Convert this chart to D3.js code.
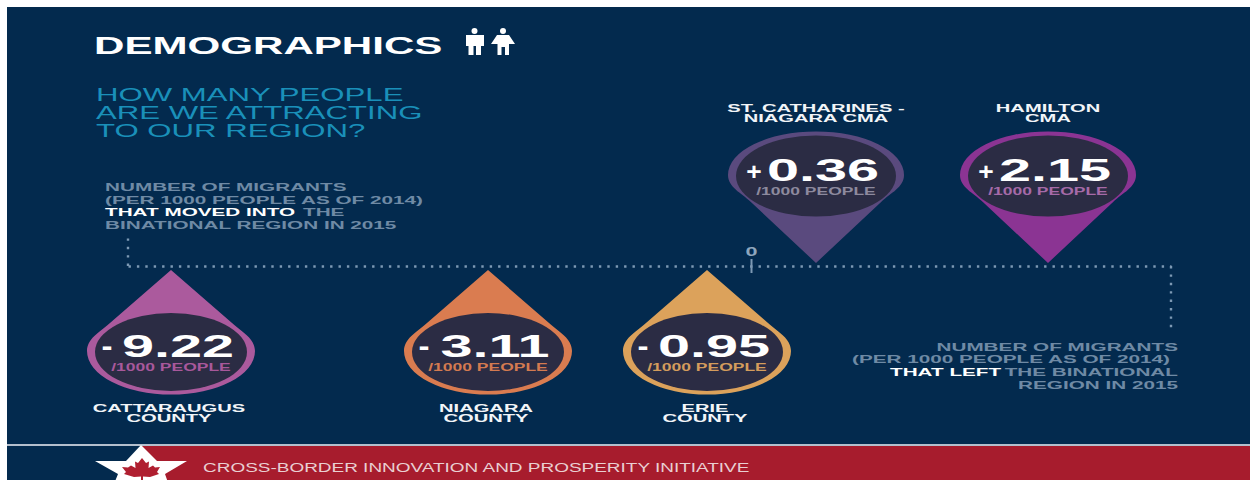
<!DOCTYPE html>
<html>
<head>
<meta charset="utf-8">
<title>Demographics</title>
<script src="https://cdn.jsdelivr.net/npm/d3@7/dist/d3.min.js"></script>
<style>
  html, body { margin: 0; padding: 0; background: #fff; }
  svg { display: block; }
  text { font-family: "Liberation Sans", Arial, sans-serif; }
</style>
</head>
<body>
<div id="chart"></div>
<script>
// Net migration per 1000 people, one pin per region
const regions = ["Cattaraugus", "Niagara", "Erie", "St. Catharines", "Hamilton"];
const regionLabels = [
  ["CATTARAUGUS", "COUNTY"],
  ["NIAGARA", "COUNTY"],
  ["ERIE", "COUNTY"],
  ["ST. CATHARINES -", "NIAGARA CMA"],
  ["HAMILTON", "CMA"]
];
const migration = [-9.22, -3.11, -0.95, 0.36, 2.15];
const pinColors = ["#ab5a9d", "#da7c50", "#dca25b", "#5a4a7e", "#8b3493"];
const unitColors = ["#a8589b", "#d47a50", "#d49c5c", "#8d8a9e", "#a66aa8"];
const zeroTick = [0];

const W = 1250, H = 480;
const svg = d3.select("#chart").append("svg").attr("width", W).attr("height", H);

const navy = "#032a4e", inner = "#2b2c44", muted = "#6f8aa5", dotColor = "#7d99b4";

svg.append("rect").attr("x", 7).attr("y", 7).attr("width", W - 7).attr("height", H - 7).attr("fill", navy);

// Stretched sans lettering: the font is widened by a common factor
function put(parent, str, x, y, opt) {
  const o = Object.assign({ size: 11.5, stretch: 1.8, anchor: "start", fill: "#fff", weight: 700 }, opt);
  const t = parent.append("text")
    .attr("x", x).attr("y", y)
    .attr("font-size", o.size).attr("font-weight", o.weight)
    .attr("fill", o.fill).attr("text-anchor", o.anchor)
    .text(str);
  const len = t.node().getComputedTextLength();
  t.attr("textLength", len * o.stretch).attr("lengthAdjust", "spacingAndGlyphs");
  return t;
}

// Heading
put(svg, "DEMOGRAPHICS", 94, 54, { size: 23, stretch: 1.83 });

// People icons
const icons = svg.append("g").attr("fill", "#fff");
icons.append("circle").attr("cx", 474.5).attr("cy", 31).attr("r", 3);
icons.append("path").attr("d", "M466 35 H484 V46 H481 V55 H476 V46 H473.5 V55 H468.500 V46 H466 Z");
icons.append("circle").attr("cx", 503).attr("cy", 31).attr("r", 3);
icons.append("path").attr("d", "M497 35 H509 L515 44 H509 V55 H505 V47 H501.500 V55 H497.500 V44 H491 Z");

// Question
["HOW MANY PEOPLE", "ARE WE ATTRACTING", "TO OUR REGION?"].forEach((s, i) =>
  put(svg, s, 96, 101 + i * 18, { size: 18, stretch: 1.73, fill: "#1a90b9", weight: 400 }));

// Note on arrivals
put(svg, "NUMBER OF MIGRANTS", 105, 191, { fill: muted });
put(svg, "(PER 1000 PEOPLE AS OF 2014)", 105, 204, { fill: muted });
put(svg, "THAT MOVED INTO", 105, 216);
put(svg, "THE", 303, 216, { fill: muted });
put(svg, "BINATIONAL REGION IN 2015", 105, 229, { fill: muted });

// Note on departures
put(svg, "NUMBER OF MIGRANTS", 1178, 351, { anchor: "end", fill: muted });
put(svg, "(PER 1000 PEOPLE AS OF 2014)", 1170, 363, { anchor: "end", fill: muted });
put(svg, "THE BINATIONAL", 1178, 376, { anchor: "end", fill: muted });
put(svg, "THAT LEFT", 890, 376);
put(svg, "REGION IN 2015", 1178, 389, { anchor: "end", fill: muted });

// The timeline is a piecewise scale: the spacing between regions is editorial, not proportional
const axisY = 266;
const x = d3.scaleLinear()
  .domain([-10.6, -9.22, -3.11, -0.95, 0, 0.36, 2.15, 2.7])
  .range([128, 171, 488, 707, 751, 816, 1048, 1171]);

const axis = d3.axisTop(x).tickValues(zeroTick).tickSize(0).tickPadding(0).tickFormat(d3.format("d"));
const axisG = svg.append("g").attr("transform", `translate(0,${axisY})`).call(axis);
axisG.select(".domain")
  .attr("stroke", dotColor).attr("stroke-width", 2.4)
  .attr("stroke-dasharray", "2.4 6");
axisG.selectAll(".tick text")
  .attr("y", -10).attr("font-size", 13).attr("font-weight", 700)
  .attr("font-family", "Liberation Sans, Arial, sans-serif")
  .attr("fill", "#8ea6bd")
  .attr("textLength", 12).attr("lengthAdjust", "spacingAndGlyphs");
axisG.selectAll(".tick line")
  .attr("y1", -7).attr("y2", 7).attr("stroke", dotColor).attr("stroke-width", 2);

// Dotted stubs that join the notes to the timeline
const stub = (xv, y0, y1) => svg.append("line")
  .attr("x1", x(xv)).attr("x2", x(xv)).attr("y1", y0).attr("y2", y1)
  .attr("stroke", dotColor).attr("stroke-width", 2.4).attr("stroke-dasharray", "2.4 6");
stub(-10.6, axisY, 238);
stub(2.7, axisY, 332);

// Teardrop outline: half an ellipse, rounded shoulders, straight flanks running to the tip
function dropPath(rx, ry, d, dir) {
  const px = 0.74 * rx, py = 0.62 * ry;
  const c1x = px + 0.15 * px, c1y = py - 0.15 * (d - py);
  const c2y = 0.28 * ry;
  const sweep = dir > 0 ? 1 : 0;
  return `M0 ${dir * d} L${-px} ${dir * py}` +
    ` C${-c1x} ${dir * c1y} ${-rx} ${dir * c2y} ${-rx} 0` +
    ` A${rx} ${ry} 0 0 ${sweep} ${rx} 0` +
    ` C${rx} ${dir * c2y} ${c1x} ${dir * c1y} ${px} ${dir * py} Z`;
}

const pins = svg.selectAll("g.pin").data(regions).join("g")
  .attr("class", "pin")
  .attr("transform", (d, i) => {
    const up = migration[i] > 0;
    return `translate(${x(migration[i])},${up ? 175 : 351})`;
  });

pins.each(function (d, i) {
  const g = d3.select(this);
  const v = migration[i];
  const up = v > 0;
  const rx = up ? 88 : 84, ry = 43.5;
  g.append("path")
    .attr("d", dropPath(rx, ry, up ? 88 : 81, up ? 1 : -1))
    .attr("fill", pinColors[i]);
  g.append("ellipse")
    .attr("cx", 0).attr("cy", 1)
    .attr("rx", rx - 8).attr("ry", up ? 40.5 : 39)
    .attr("fill", inner);

  const numY = 6;
  put(g, Math.abs(v).toFixed(2), 7, numY, { size: 32, stretch: 1.8, anchor: "middle" });
  put(g, up ? "+" : "-", up ? -62 : -64, numY - 1, { size: up ? 24 : 30, stretch: 1.1, anchor: "middle" });
  put(g, "/1000 PEOPLE", 0, up ? 20 : 19.5, { stretch: 1.52, anchor: "middle", fill: unitColors[i] });

  const lines = regionLabels[i];
  const y0 = up ? -63 : 61;
  lines.forEach((s, k) =>
    put(g, s, up ? 0 : -2, y0 + k * 10, { stretch: 1.75, anchor: "middle", fill: "#f2f5f8" }));
});

// Footer band
svg.append("rect").attr("x", 7).attr("y", 444).attr("width", W - 7).attr("height", 2).attr("fill", "#b4bfcd");
svg.append("rect").attr("x", 141).attr("y", 446).attr("width", W - 141).attr("height", 34).attr("fill", "#a71c2d");
svg.append("path")
  .attr("d", "M141 445 L157 461 L187 461 L165 474 L172 494 L141 483 L110 494 L118 474 L95 461 L126 461 Z")
  .attr("fill", "#fff");
svg.append("path")
  .attr("d", "M142 458 L146 463 L149 461.500 L148.500 468 L153 465.500 L155 467.500 L160 467 L157 472 L159 474 L150 477 L143 476.500 L143 480 L141 480 L141 476.500 L134 477 L124 474 L126 472 L122 467 L128 467.500 L131 465.500 L135.500 468 L135 461.500 L138 463 Z")
  .attr("fill", "#b01f30");
put(svg, "CROSS-BORDER INNOVATION AND PROSPERITY INITIATIVE", 203, 472, { size: 12, stretch: 1.58, fill: "#e9cfd2", weight: 400 });
</script>
</body>
</html>
